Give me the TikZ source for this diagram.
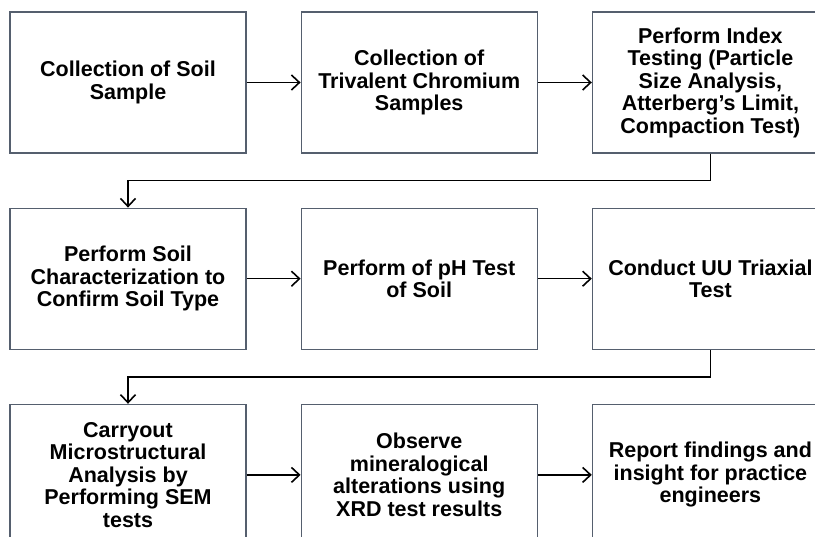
\documentclass[tikz,border=0pt]{standalone}
\usepackage{fontspec}
\setmainfont{Liberation Sans}
\usetikzlibrary{arrows.meta,positioning}
\definecolor{boxline}{RGB}{85,95,110}
\tikzset{
  procbox/.style = {rectangle, draw=boxline, line width=1.2pt, align=center,
    minimum width=236pt, minimum height=141pt, inner sep=0pt,
    font=\fontsize{21.5}{22.5}\selectfont\bfseries},% process step
  flow/.style = {->, line width=1.6pt, black}% connector
}

\begin{document}
\begin{tikzpicture}[x=1pt,y=1pt,>={Straight Barb[length=8pt,width=15pt,line width=1.6pt]}]
\clip (0,0) rectangle (815,-537);
% first row
\node [procbox] (soil) at (128,-82.5) {Collection of Soil\\Sample};
\node [procbox, right=54pt of soil] (chrom) {Collection of\\Trivalent Chromium\\Samples};
\node [procbox, right=54pt of chrom] (index) {Perform Index\\Testing (Particle\\Size Analysis,\\Atterberg’s Limit,\\Compaction Test)};
% second row
\node [procbox, below=54pt of soil] (charac) {Perform Soil\\Characterization to\\Confirm Soil Type};
\node [procbox, right=54pt of charac] (ph) {Perform of pH Test\\of Soil};
\node [procbox, right=54pt of ph] (uu) {Conduct UU Triaxial\\Test};
% third row
\node [procbox, below=54pt of charac] (sem) {Carryout\\Microstructural\\Analysis by\\Performing SEM\\tests};
\node [procbox, right=54pt of sem] (xrd) {Observe\\mineralogical\\alterations using\\XRD test results};
\node [procbox, right=54pt of xrd] (report) {Report findings and\\insight for practice\\engineers};

\draw [flow] (soil) -- (chrom);
\draw [flow] (chrom) -- (index);
\draw [flow] (index.south) -- ++(0,-27) -| (charac.north);
\draw [flow] (charac) -- (ph);
\draw [flow] (ph) -- (uu);
\draw [flow] (uu.south) -- ++(0,-27) -| (sem.north);
\draw [flow] (sem) -- (xrd);
\draw [flow] (xrd) -- (report);
\end{tikzpicture}
\end{document}
